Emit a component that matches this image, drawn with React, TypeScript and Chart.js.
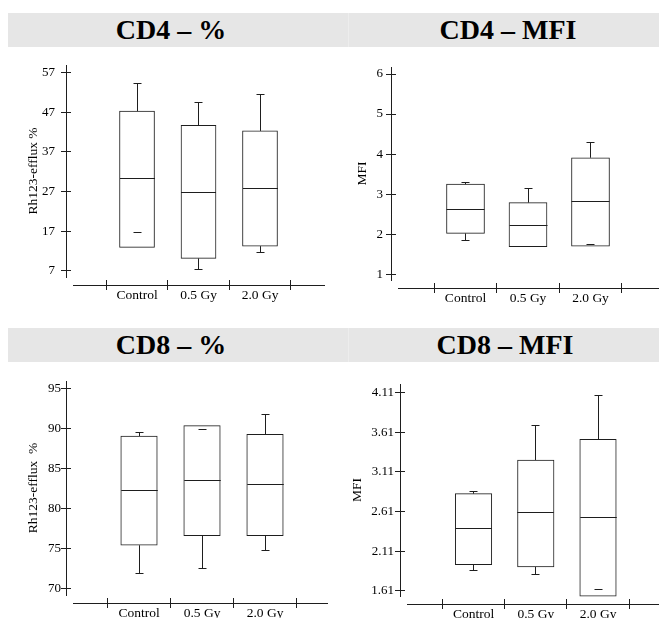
import React, { useEffect, useRef } from "react";
import { Chart, registerables } from "chart.js";

Chart.register(...registerables);

// ---------- data ----------
const categories = ["Control", "0.5 Gy", "2.0 Gy"];

// CD4 – %
const cd4PctMin = [16.7, 7.3, 11.6];
const cd4PctQ1 = [12.9, 10.1, 13.2];
const cd4PctMedian = [30.2, 26.8, 27.8];
const cd4PctQ3 = [47.3, 43.7, 42.3];
const cd4PctMax = [54.3, 49.5, 51.4];
const cd4PctTicks = [7, 17, 27, 37, 47, 57];

// CD4 – MFI
const cd4MfiMin = [1.85, 1.705, 1.745];
const cd4MfiQ1 = [2.02, 1.69, 1.7];
const cd4MfiMedian = [2.63, 2.22, 2.82];
const cd4MfiQ3 = [3.25, 2.79, 3.91];
const cd4MfiMax = [3.3, 3.13, 4.28];
const cd4MfiTicks = [1, 2, 3, 4, 5, 6];

// CD8 – %
const cd8PctMin = [71.9, 72.5, 74.7];
const cd8PctQ1 = [75.4, 76.6, 76.6];
const cd8PctMedian = [82.3, 83.5, 83.0];
const cd8PctQ3 = [89.1, 90.4, 89.3];
const cd8PctMax = [89.5, 89.9, 91.8];
const cd8PctTicks = [70, 75, 80, 85, 90, 95];

// CD8 – MFI
const cd8MfiMin = [1.87, 1.82, 1.63];
const cd8MfiQ1 = [1.94, 1.91, 1.54];
const cd8MfiMedian = [2.39, 2.6, 2.54];
const cd8MfiQ3 = [2.835, 3.26, 3.52];
const cd8MfiMax = [2.86, 3.69, 4.07];
const cd8MfiTicks = [1.61, 2.11, 2.61, 3.11, 3.61, 4.11];

// ---------- style / layout ----------
const FONT = '"Liberation Serif", "Times New Roman", Times, serif';
const LINE = "#1e1e1e";
const YW = 60; // main y-axis box width
const YIN = 5; // inward part of y tick marks
const YGAP = 2; // spacer between inner y ticks and plot
const XGAP = 3; // spacer between plot and upper x tick part
const XUP = 5; // upper part of x tick marks
const XLAB = 22; // box holding the x axis line, lower ticks and labels
const PT = 18; // top padding

type PanelCfg = {
  min: number[]; q1: number[]; med: number[]; q3: number[]; max: number[];
  ticks: number[];
  yMin: number; yMax: number; xMin: number; xMax: number;
  axisX: number; top: number; bottom: number; right: number;
  barW: number; tickPad: number; titleX: number; yTitle: string;
};

const panels: PanelCfg[] = [
  {
    min: cd4PctMin, q1: cd4PctQ1, med: cd4PctMedian, q3: cd4PctQ3, max: cd4PctMax,
    ticks: cd4PctTicks, yMin: 5.41, yMax: 58.94, xMin: -0.041, xMax: 4.057,
    axisX: 66, top: 65, bottom: 277, right: 325, barW: 35, tickPad: 6, titleX: 33,
    yTitle: "Rh123-efflux %",
  },
  {
    min: cd4MfiMin, q1: cd4MfiQ1, med: cd4MfiMedian, q3: cd4MfiQ3, max: cd4MfiMax,
    ticks: cd4MfiTicks, yMin: 0.858, yMax: 6.175, xMin: -0.08, xMax: 4.096,
    axisX: 391, top: 67, bottom: 280, right: 659, barW: 38, tickPad: 3, titleX: 362,
    yTitle: "MFI",
  },
  {
    min: cd8PctMin, q1: cd8PctQ1, med: cd8PctMedian, q3: cd8PctQ3, max: cd8PctMax,
    ticks: cd8PctTicks, yMin: 69.16, yMax: 96.0, xMin: -0.048, xMax: 4.0,
    axisX: 66, top: 381, bottom: 595, right: 328, barW: 36.5, tickPad: 0, titleX: 33,
    yTitle: "Rh123-efflux  %",
  },
  {
    min: cd8MfiMin, q1: cd8MfiQ1, med: cd8MfiMedian, q3: cd8MfiQ3, max: cd8MfiMax,
    ticks: cd8MfiTicks, yMin: 1.543, yMax: 4.22, xMin: -0.069, xMax: 3.98,
    axisX: 400, top: 384, bottom: 596, right: 659, barW: 36.5, tickPad: 1, titleX: 357,
    yTitle: "MFI",
  },
];

const headers = [
  { text: "CD4 – %", cx: 171, top: 13 },
  { text: "CD4 – MFI", cx: 508, top: 13 },
  { text: "CD8 – %", cx: 171, top: 328 },
  { text: "CD8 – MFI", cx: 505, top: 328 },
];

function Panel({ cfg }: { cfg: PanelCfg }) {
  const ref = useRef<HTMLCanvasElement | null>(null);
  const left = cfg.axisX - YW;
  const top = cfg.top - PT;
  const width = cfg.right - left;
  const height = cfg.bottom + XGAP + XUP + XLAB - top;

  useEffect(() => {
    if (!ref.current) return;
    const capHalf = 4;
    const whiskers = {
      id: "whiskers",
      afterDatasetsDraw(chart: any) {
        const { ctx } = chart;
        const xs = chart.scales.x;
        const ys = chart.scales.y;
        const py = (v: number) => Math.floor(ys.getPixelForValue(v)) + 0.5;
        ctx.save();
        ctx.strokeStyle = LINE;
        ctx.lineWidth = 1;
        categories.forEach((_, i) => {
          const cx = Math.floor(xs.getPixelForValue(i + 1)) + 0.5;
          const half = cfg.barW / 2;
          ctx.beginPath();
          const ym = py(cfg.med[i]);
          ctx.moveTo(cx - half, ym);
          ctx.lineTo(cx + half, ym);
          const yHi = py(cfg.max[i]);
          if (cfg.max[i] > cfg.q3[i]) {
            ctx.moveTo(cx, ys.getPixelForValue(cfg.q3[i]));
            ctx.lineTo(cx, yHi);
          }
          ctx.moveTo(cx - capHalf, yHi);
          ctx.lineTo(cx + capHalf, yHi);
          const yLo = py(cfg.min[i]);
          if (cfg.min[i] < cfg.q1[i]) {
            ctx.moveTo(cx, ys.getPixelForValue(cfg.q1[i]));
            ctx.lineTo(cx, yLo);
          }
          ctx.moveTo(cx - capHalf, yLo);
          ctx.lineTo(cx + capHalf, yLo);
          ctx.stroke();
        });
        ctx.restore();
      },
    };

    const titleLH = 13.5 * 1.2;
    const catTicks = (s: any) => {
      s.ticks = categories.map((_, i) => ({ value: i + 1 }));
    };
    const valTicks = (s: any) => {
      s.ticks = cfg.ticks.map((v) => ({ value: v }));
    };
    const hidden = { display: false };

    const chart = new Chart(ref.current, {
      type: "bar",
      data: {
        datasets: [
          {
            data: categories.map((_, i) => ({ x: i + 1, y: [cfg.q1[i], cfg.q3[i]] })) as any,
            backgroundColor: "#ffffff",
            borderColor: LINE,
            borderWidth: 1,
            borderSkipped: false,
            barThickness: cfg.barW,
            clip: false,
          } as any,
        ],
      },
      options: {
        animation: false,
        responsive: false,
        maintainAspectRatio: false,
        events: [],
        layout: { padding: { top: PT, left: 0, right: 0, bottom: 0 } },
        plugins: { legend: { display: false }, tooltip: { enabled: false } },
        scales: {
          // data x-axis: only a spacer below the plot
          x: {
            type: "linear", axis: "x", position: "bottom", weight: 0,
            min: cfg.xMin, max: cfg.xMax, offset: false,
            afterBuildTicks: catTicks,
            afterFit: (s: any) => { s.height = XGAP; },
            ticks: { display: false },
            grid: hidden, border: hidden,
          } as any,
          // upper halves of the category tick marks
          xUp: {
            type: "linear", axis: "x", position: "bottom", weight: 1,
            min: cfg.xMin, max: cfg.xMax, offset: false,
            afterBuildTicks: catTicks,
            afterFit: (s: any) => { s.height = XUP; },
            ticks: { display: false },
            grid: { offset: true, drawOnChartArea: false, tickLength: XUP, color: LINE, lineWidth: 1 },
            border: hidden,
          } as any,
          // axis line, lower tick halves, category labels
          xAxis: {
            type: "linear", axis: "x", position: "bottom", weight: 2,
            min: cfg.xMin, max: cfg.xMax, offset: false,
            afterBuildTicks: catTicks,
            afterFit: (s: any) => { s.height = XLAB; },
            ticks: {
              autoSkip: false, maxRotation: 0, minRotation: 0, padding: -3,
              color: "#000", font: { family: FONT, size: 13.5 },
              callback: (v: any) => categories[Math.round(Number(v)) - 1] ?? "",
            },
            grid: { offset: true, drawOnChartArea: false, tickLength: 5, color: LINE, lineWidth: 1 },
            border: { display: true, color: LINE, width: 1 },
          } as any,
          // spacer between plot and inner y tick halves
          yGap: {
            type: "linear", axis: "y", position: "left", weight: 0,
            min: cfg.yMin, max: cfg.yMax,
            afterBuildTicks: valTicks,
            afterFit: (s: any) => { s.width = YGAP; },
            ticks: { display: false },
            grid: hidden, border: hidden,
          } as any,
          // inner halves of y tick marks
          yIn: {
            type: "linear", axis: "y", position: "left", weight: 1,
            min: cfg.yMin, max: cfg.yMax,
            afterBuildTicks: valTicks,
            afterFit: (s: any) => { s.width = YIN; },
            ticks: { display: false },
            grid: { drawOnChartArea: false, tickLength: YIN, color: LINE, lineWidth: 1 },
            border: hidden,
          } as any,
          // main value axis: line, outer tick halves, labels, title
          y: {
            type: "linear", axis: "y", position: "left", weight: 2,
            min: cfg.yMin, max: cfg.yMax,
            afterBuildTicks: valTicks,
            afterFit: (s: any) => { s.width = YW; },
            ticks: {
              padding: cfg.tickPad, color: "#000",
              font: { family: FONT, size: 13 },
              callback: (v: any) => String(v),
            },
            grid: { drawOnChartArea: false, tickLength: 5, color: LINE, lineWidth: 1 },
            border: { display: true, color: LINE, width: 1 },
            title: {
              display: true, text: cfg.yTitle, color: "#000",
              font: { family: FONT, size: 13.5 },
              padding: { top: cfg.titleX - left - titleLH / 2, bottom: 0 },
            },
          } as any,
        },
      },
      plugins: [whiskers],
    });
    return () => chart.destroy();
  }, [cfg]);

  return (
    <canvas
      ref={ref}
      width={width}
      height={height}
      style={{ position: "absolute", left, top, width, height }}
    />
  );
}

export default function App() {
  const band = (l: number, t: number, w: number, c: string) => (
    <div style={{ position: "absolute", left: l, top: t, width: w, height: 34, background: c }} />
  );
  return (
    <div
      style={{
        position: "fixed",
        left: 0,
        top: 0,
        width: 659,
        height: 618,
        overflow: "hidden",
        background: "#ffffff",
      }}
    >
      {band(8, 13, 340, "#e6e6e6")}
      {band(348, 13, 1, "#ededed")}
      {band(349, 13, 310, "#e6e6e6")}
      {band(8, 328, 340, "#e6e6e6")}
      {band(348, 328, 1, "#ededed")}
      {band(349, 328, 310, "#e6e6e6")}
      {headers.map((h) => (
        <div
          key={h.text}
          style={{
            position: "absolute",
            left: h.cx - 150,
            width: 300,
            top: h.top,
            height: 34,
            lineHeight: "34px",
            textAlign: "center",
            fontFamily: FONT,
            fontWeight: "bold",
            fontSize: 28,
            color: "#000",
            whiteSpace: "pre",
          }}
        >
          {h.text}
        </div>
      ))}
      {panels.map((p, i) => (
        <Panel key={i} cfg={p} />
      ))}
    </div>
  );
}
